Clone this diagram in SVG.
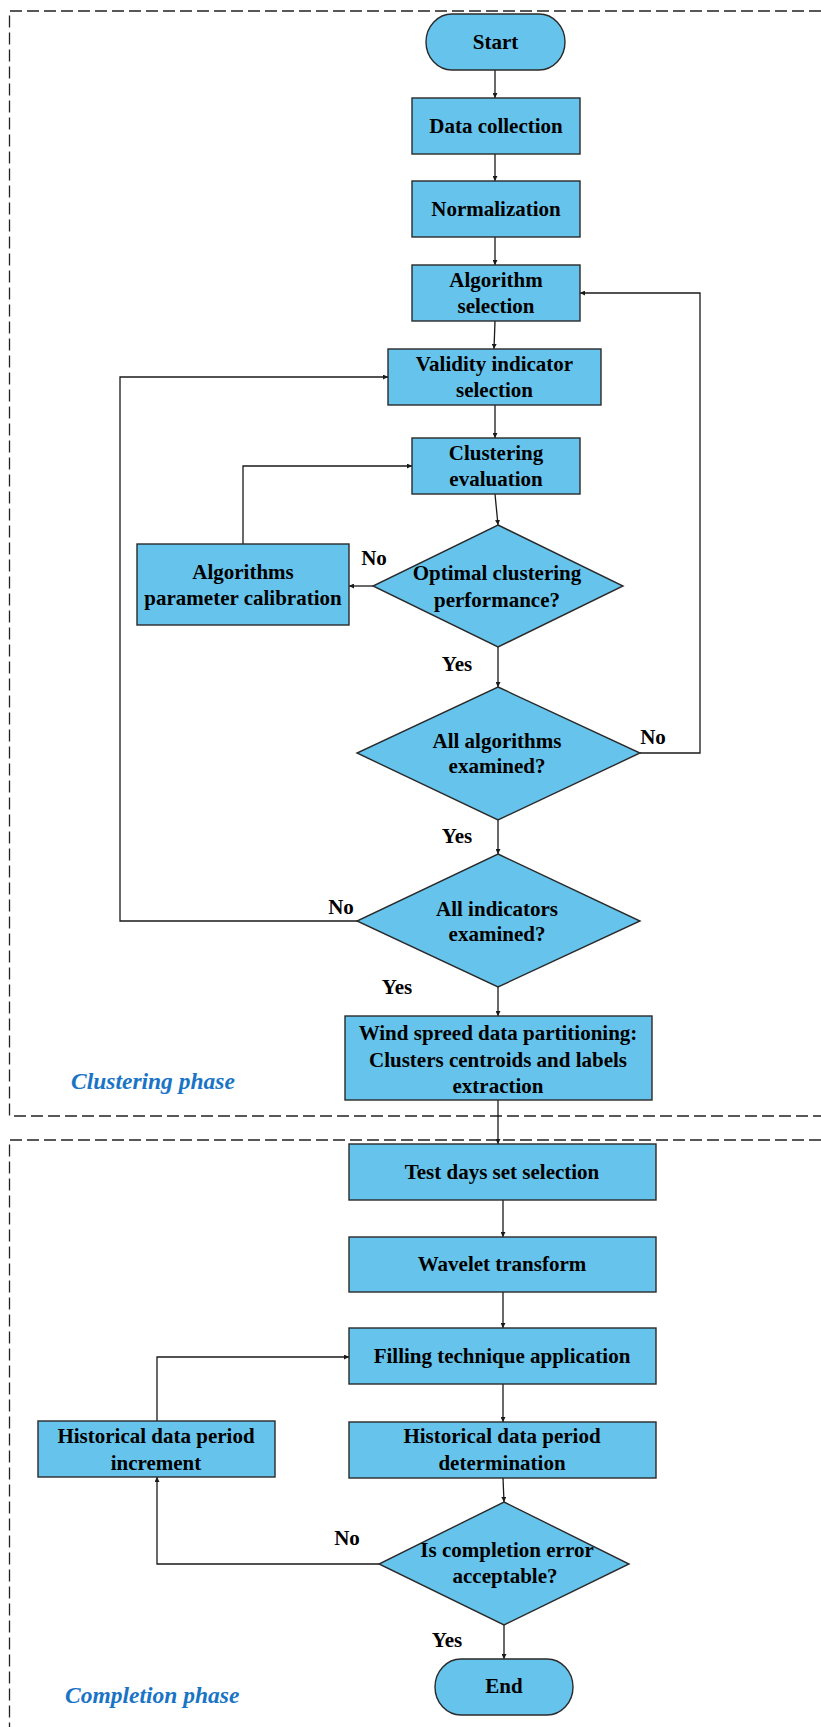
<svg xmlns="http://www.w3.org/2000/svg" width="821" height="1727" viewBox="0 0 821 1727">
<style>
.n{fill:#66C4EC;stroke:#2a2a2a;stroke-width:1.4}
.t{font-family:"Liberation Serif","Times New Roman",serif;font-weight:bold;font-size:21px;fill:#000;text-anchor:middle}
.l{font-family:"Liberation Serif","Times New Roman",serif;font-weight:bold;font-size:21px;fill:#000;text-anchor:middle}
.p{font-family:"Liberation Serif","Times New Roman",serif;font-weight:bold;font-style:italic;font-size:23.5px;fill:#1A74C6}
.c{fill:none;stroke:#1a1a1a;stroke-width:1.3}
.d{fill:none;stroke:#222;stroke-width:1.3;stroke-dasharray:12 5}
</style>
<defs>
<marker id="a" viewBox="0 0 6 6" refX="6" refY="3" markerWidth="5" markerHeight="5" orient="auto" markerUnits="userSpaceOnUse">
<path d="M0,0 L6,3 L0,6 z" fill="#1a1a1a"/>
</marker>
</defs>
<g id="phases">
<path class="d" d="M821 11 H9.5 V1116 H821"/>
<path class="d" d="M821 1140 H9.5 V1727"/>
<text class="p" x="71" y="1089">Clustering phase</text>
<text class="p" x="65" y="1703">Completion phase</text>
</g>
<g id="connectors">
<path class="c" marker-end="url(#a)" d="M495 70 V98"/>
<path class="c" marker-end="url(#a)" d="M495 154 V181"/>
<path class="c" marker-end="url(#a)" d="M495 237 V265"/>
<path class="c" marker-end="url(#a)" d="M495 321 L494 349"/>
<path class="c" marker-end="url(#a)" d="M495 405 V438"/>
<path class="c" marker-end="url(#a)" d="M495 494 L498 525"/>
<path class="c" marker-end="url(#a)" d="M373 586 H349"/>
<path class="c" marker-end="url(#a)" d="M243 544 V466 H412"/>
<path class="c" marker-end="url(#a)" d="M498 647 V687"/>
<path class="c" marker-end="url(#a)" d="M640 753 H700 V293 H580"/>
<path class="c" marker-end="url(#a)" d="M498 820 V854"/>
<path class="c" marker-end="url(#a)" d="M357 921 H120 V377 H388"/>
<path class="c" marker-end="url(#a)" d="M498 987 V1016"/>
<path class="c" marker-end="url(#a)" d="M498 1100 V1144"/>
<path class="c" marker-end="url(#a)" d="M503 1200 V1237"/>
<path class="c" marker-end="url(#a)" d="M503 1292 V1328"/>
<path class="c" marker-end="url(#a)" d="M503 1384 V1422"/>
<path class="c" marker-end="url(#a)" d="M503 1478 L504 1502"/>
<path class="c" marker-end="url(#a)" d="M157 1421 V1357 H349"/>
<path class="c" marker-end="url(#a)" d="M379 1564 H157 V1477"/>
<path class="c" marker-end="url(#a)" d="M504 1625 V1659"/>
<text class="l" x="374" y="565">No</text>
<text class="l" x="457" y="671">Yes</text>
<text class="l" x="653" y="744">No</text>
<text class="l" x="457" y="843">Yes</text>
<text class="l" x="341" y="914">No</text>
<text class="l" x="397" y="994">Yes</text>
<text class="l" x="347" y="1545">No</text>
<text class="l" x="447" y="1647">Yes</text>
</g>
<g id="start"><rect class="n" x="426" y="14" width="139" height="56" rx="26" ry="28"/><text class="t" x="495.5" y="49">Start</text></g>
<g id="data-collection"><rect class="n" x="412" y="98" width="168" height="56"/><text class="t" x="496" y="133">Data collection</text></g>
<g id="normalization"><rect class="n" x="412" y="181" width="168" height="56"/><text class="t" x="496" y="216">Normalization</text></g>
<g id="algorithm-selection"><rect class="n" x="412" y="265" width="168" height="56"/><text class="t" x="496" y="287">Algorithm</text><text class="t" x="496" y="313">selection</text></g>
<g id="validity-selection"><rect class="n" x="388" y="349" width="213" height="56"/><text class="t" x="494.5" y="371">Validity indicator</text><text class="t" x="494.5" y="397">selection</text></g>
<g id="clustering-evaluation"><rect class="n" x="412" y="438" width="168" height="56"/><text class="t" x="496" y="460">Clustering</text><text class="t" x="496" y="486">evaluation</text></g>
<g id="parameter-calibration"><rect class="n" x="137" y="544" width="212" height="81"/><text class="t" x="243" y="579">Algorithms</text><text class="t" x="243" y="605">parameter calibration</text></g>
<g id="optimal-decision"><polygon class="n" points="498,525 623,586 498,647 373,586"/><text class="t" x="497" y="580">Optimal clustering</text><text class="t" x="497" y="607">performance?</text></g>
<g id="algorithms-decision"><polygon class="n" points="498,687 640,753 498,820 357,753"/><text class="t" x="497" y="748">All algorithms</text><text class="t" x="497" y="773">examined?</text></g>
<g id="indicators-decision"><polygon class="n" points="498,854 640,921 498,987 357,921"/><text class="t" x="497" y="916">All indicators</text><text class="t" x="497" y="941">examined?</text></g>
<g id="partitioning"><rect class="n" x="345" y="1016" width="307" height="84"/><text class="t" x="498" y="1040">Wind spreed data partitioning:</text><text class="t" x="498" y="1067">Clusters centroids and labels</text><text class="t" x="498" y="1093">extraction</text></g>
<g id="test-days"><rect class="n" x="349" y="1144" width="307" height="56"/><text class="t" x="502" y="1179">Test days set selection</text></g>
<g id="wavelet"><rect class="n" x="349" y="1237" width="307" height="55"/><text class="t" x="502" y="1271">Wavelet transform</text></g>
<g id="filling"><rect class="n" x="349" y="1328" width="307" height="56"/><text class="t" x="502" y="1363">Filling technique application</text></g>
<g id="period-determination"><rect class="n" x="349" y="1422" width="307" height="56"/><text class="t" x="502" y="1443">Historical data period</text><text class="t" x="502" y="1470">determination</text></g>
<g id="period-increment"><rect class="n" x="38" y="1421" width="237" height="56"/><text class="t" x="156" y="1443">Historical data period</text><text class="t" x="156" y="1470">increment</text></g>
<g id="error-decision"><polygon class="n" points="504,1502 629,1564 504,1625 379,1564"/><text class="t" x="507" y="1557">Is completion error</text><text class="t" x="505" y="1583">acceptable?</text></g>
<g id="end"><rect class="n" x="435" y="1659" width="138" height="56" rx="26" ry="28"/><text class="t" x="504" y="1693">End</text></g>
</svg>
